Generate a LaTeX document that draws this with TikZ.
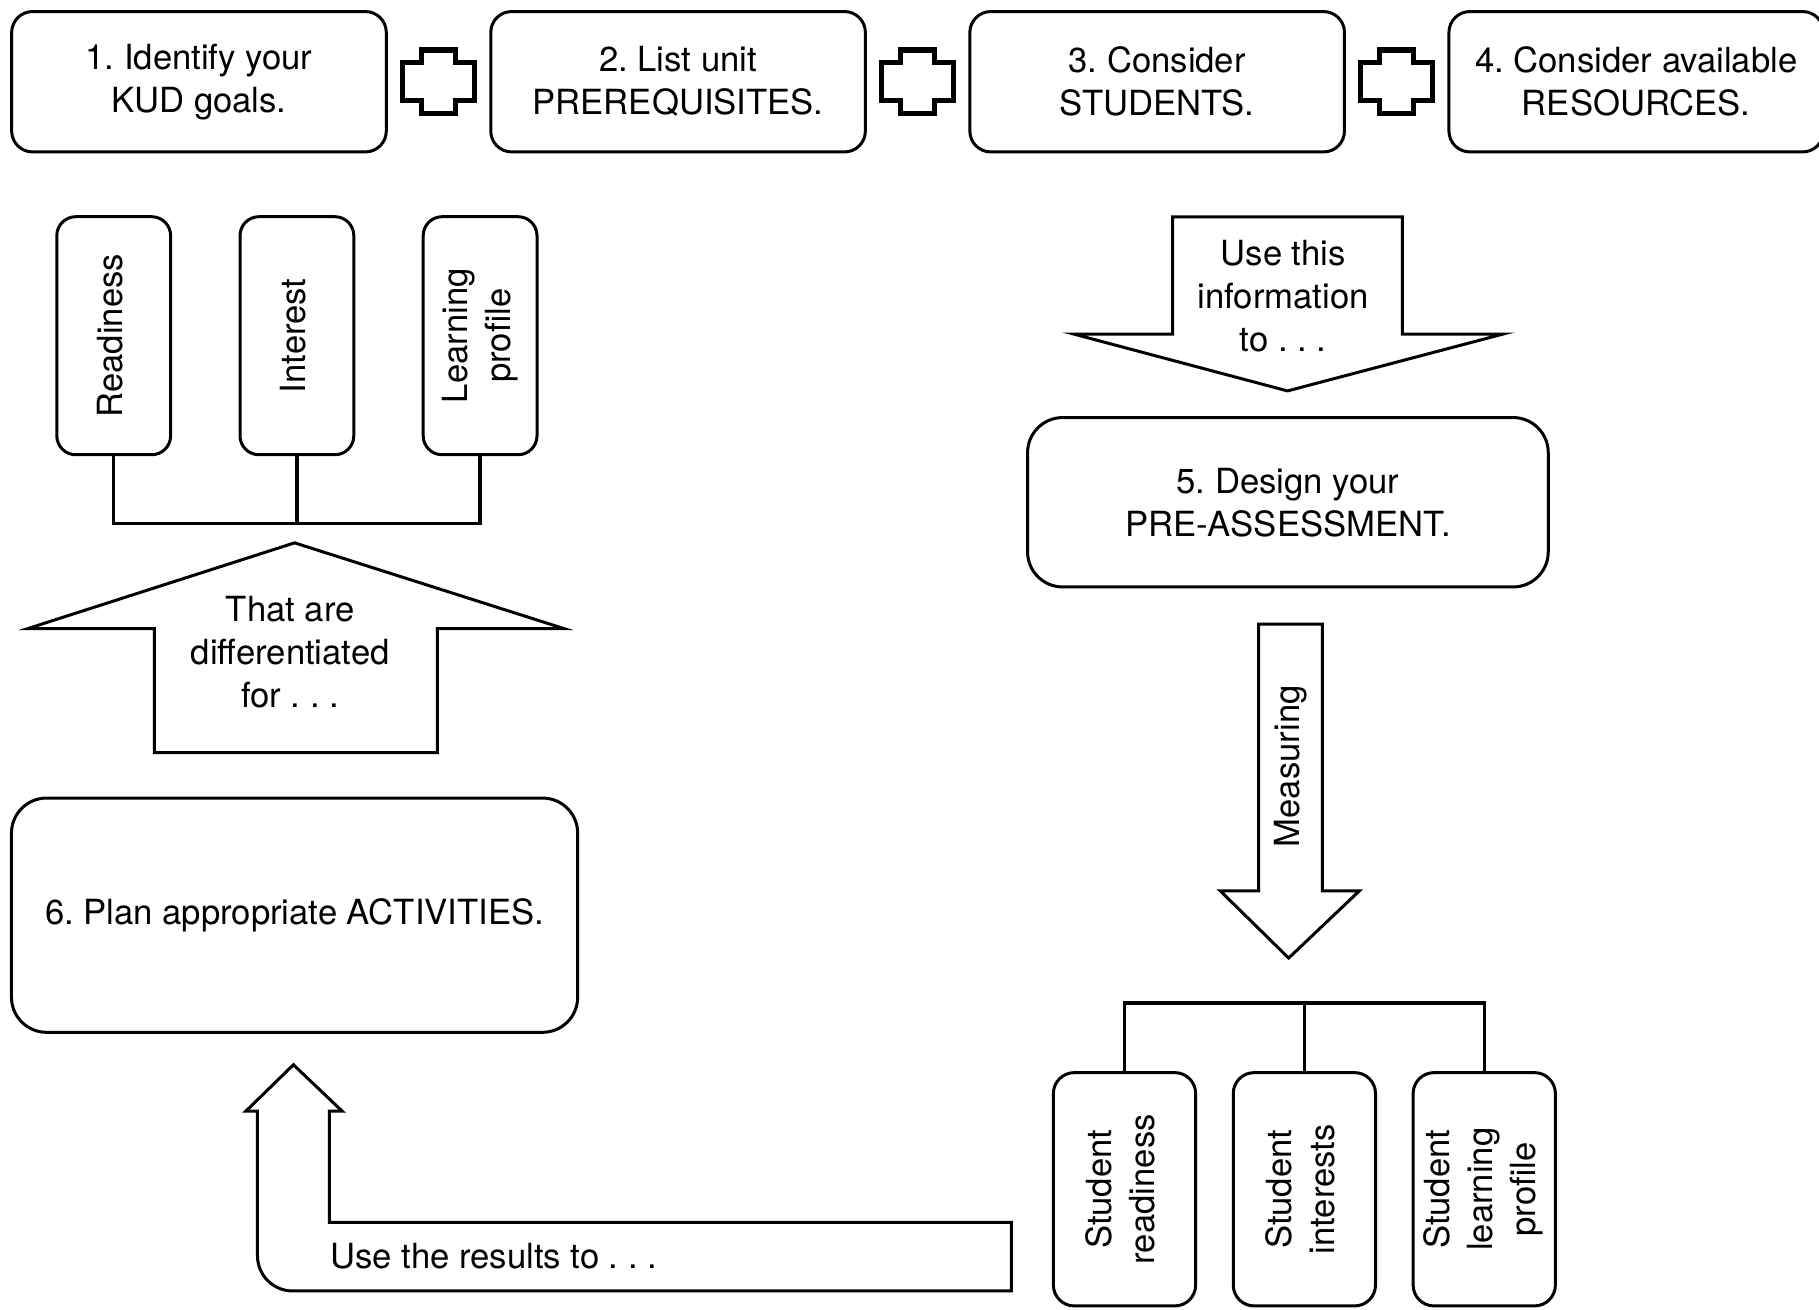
\documentclass[tikz,border=0pt]{standalone}
\usepackage{fontspec}
\setmainfont{TeX Gyre Heros}
\usepackage{graphicx}
\usetikzlibrary{calc,positioning}
\newcommand{\vlab}[1]{\rotatebox{90}{\begin{tabular}{@{}c@{}}#1\end{tabular}}}
\tikzset{box/.style={draw, line width=0.9pt, rounded corners=2.2mm, minimum width=39.5mm, minimum height=14.8mm, align=center},
  tall/.style={draw, line width=0.9pt, rounded corners=2mm, minimum width=12mm, minimum height=25.1mm, inner sep=0pt},
  stud/.style={tall, rounded corners=2.2mm, minimum width=15mm, minimum height=24.6mm},
  wide/.style={draw, line width=0.9pt, rounded corners=3.7mm, align=center},
  blk/.style={draw, line width=0.9pt, line join=miter},
  cross/.style={line width=1.6pt},
  wire/.style={line width=1pt}}

\begin{document}
\begin{tikzpicture}[x=1mm, y=1mm, font=\fontsize{10.4pt}{12.9pt}\selectfont\frenchspacing]
  \useasboundingbox (0,0) rectangle (191.8,-138.1);
  % top row
  \node[box] (b1) at (20.98,-8.62) {1. Identify your\\KUD goals.};
  \node[box, right=10.7mm of b1] (b2) {2. List unit\\PREREQUISITES.};
  \node[box, right=10.7mm of b2] (b3) {3. Consider\\STUDENTS.};
  \node[box, right=10.7mm of b3] (b4) {4. Consider available\\RESOURCES.};
  % plus signs between the boxes
  \foreach \a/\b in {b1/b2,b2/b3,b3/b4}{
    \coordinate (m) at ($(\a.east)!0.5!(\b.west)$);
    \draw[cross] ($(m)+(-1.8,3.35)$) -- ++(3.6,0) -- ++(0,-1.35) -- ++(2,0) -- ++(0,-4) -- ++(-2,0) -- ++(0,-1.35)
      -- ++(-3.6,0) -- ++(0,1.35) -- ++(-2,0) -- ++(0,4) -- ++(2,0) -- cycle;
  }
  % left column
  \node[tall] (rd) at (11.99,-35.4) {\vlab{Readiness}};
  \node[tall, right=7mm of rd] (in) {\vlab{Interest}};
  \node[tall, right=7mm of in] (lp) {\vlab{Learning\\profile}};
  \coordinate (j1) at ($(in.south)+(0,-7.1)$);
  \draw[wire] (rd.south) |- (j1) -| (lp.south);
  \draw[wire] (in.south) -- (j1);
  \node[align=center] (dif) at (30.6,-68.8) {That are\\differentiated\\for . . .};
  \draw[blk] (16.27,-79.37) -- (16.27,-66.29) -- (2.9,-66.29) -- (31.06,-57.24) -- (59.5,-66.29) -- (46.11,-66.29)
    -- (46.11,-79.37) -- cycle;
  \node[wide, minimum width=59.7mm, minimum height=24.7mm] (act) at (31.06,-96.5) {6. Plan appropriate ACTIVITIES.};
  % feedback arrow
  \draw[blk] (30.94,-112.27) -- (36.08,-117.16) -- (34.73,-117.16) -- (34.73,-128.9) -- (106.65,-128.9) -- (106.65,-136.12)
    -- (30.85,-136.12) arc[start angle=270, end angle=180, radius=3.7] -- (27.15,-117.16) -- (25.93,-117.16) -- cycle;
  \node[anchor=west] (res) at (33.6,-132.5) {Use the results to . . .};
  % right column
  \node[align=center] (use) at (135.3,-31.2) {Use this\\information\\to . . .};
  \draw[blk] (123.65,-22.87) -- (147.86,-22.87) -- (147.86,-35.22) -- (158.5,-35.22) -- (135.76,-41.22) -- (113.2,-35.22)
    -- (123.65,-35.22) -- cycle;
  \node[wide, minimum width=54.9mm, minimum height=17.86mm] (pre) at (135.8,-52.96) {5. Design your\\PRE-ASSESSMENT.};
  \draw[blk] (132.7,-65.8) -- (139.43,-65.8) -- (139.43,-93.93) -- (143.34,-93.93) -- (135.88,-101.02) -- (128.66,-93.93)
    -- (132.7,-93.93) -- cycle;
  \node[rotate=90] (meas) at (136.05,-80.8) {Measuring};
  \node[stud] (sr) at (118.57,-125.4) {\vlab{Student\\readiness}};
  \node[stud, right=3.65mm of sr] (si) {\vlab{Student\\interests}};
  \node[stud, right=3.65mm of si] (sl) {\vlab{Student\\learning\\profile}};
  \coordinate (j2) at ($(si.north)+(0,7.2)$);
  \draw[wire] (sr.north) |- (j2) -| (sl.north);
  \draw[wire] (si.north) -- (j2);
\end{tikzpicture}
\end{document}
